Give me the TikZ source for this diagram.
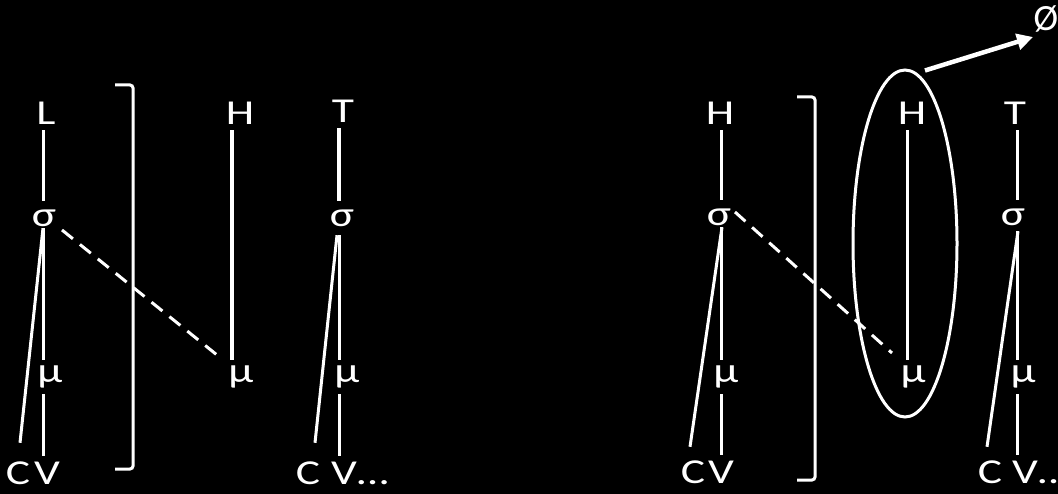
\documentclass[tikz,border=0pt]{standalone}
\usepackage{fontspec}
\newfontfamily\lblfont[FakeStretch=1.3]{Carlito}
\newfontfamily\phifont{Carlito}
\usetikzlibrary{arrows.meta,calc,shapes.geometric}
\begin{document}
\begin{tikzpicture}[x=1pt,y=-1pt,
  lbl/.style={font=\lblfont\fontsize{35}{40}\selectfont, text=white, inner sep=0pt, minimum height=34pt},
  ln/.style={draw=white, line width=3pt},
  thk/.style={draw=white, line width=4pt},
  dashln/.style={draw=white, line width=3pt, dash pattern=on 14pt off 9pt},
  brk/.style={draw=white, line width=3pt, rounded corners=3pt}]
\fill[black] (0,0) rectangle (1058,494);
\useasboundingbox (0,0) rectangle (1058,494);
% column x positions
\coordinate (xa) at (43,0);
\coordinate (xb) at (232,0);
\coordinate (xc) at (339,0);
\coordinate (xd) at (721,0);
\coordinate (xe) at (907,0);
\coordinate (xf) at (1017,0);
% ---------- left panel ----------
\node[lbl] (L) at (46,113) {L};
\node[lbl] (s1) at (44,218) {σ};
\node[lbl] (m1) at (50,377) {μ};
\node[lbl] (c1) at (18,473) {C};
\node[lbl] (v1) at (47,473) {V};
\draw[ln] (L.south -| xa) -- (s1.north -| xa);
\draw[ln] ($(s1.south -| xa)+(0,-7)$) -- (m1.north -| xa);
\draw[ln] (m1.south -| xa) -- (v1.north -| xa);
\draw[ln] ($(s1.south -| xa)+(0,-7)$) -- ($(c1.north)+(2,-13)$);
\coordinate (b1t) at (115,85);
\coordinate (b1b) at (115,469);
\draw[brk] (b1t) -- (133,85) -- (133,469) -- (b1b);
\node[lbl] (h1) at (240,113) {H};
\node[lbl] (m2) at (241,377) {μ};
\draw[thk] (h1.south -| xb) -- (m2.north -| xb);
\draw[dashln] ($(s1)+(18,12)$) -- ($(m2)+(-24,-22)$);
\node[lbl] (t1) at (343,111) {T};
\node[lbl] (s2) at (342,218) {σ};
\node[lbl] (m3) at (347,377) {μ};
\node[lbl] (c2) at (308,473) {C};
\node[lbl, anchor=west] (v2) at (331,473) {V…};
\draw[thk] (t1.south -| xc) -- (s2.north -| xc);
\draw[ln] (s2.south -| xc) -- (m3.north -| xc);
\draw[ln] (m3.south -| xc) -- (v2.north -| xc);
\draw[ln] ($(s2.south -| xc)+(-2,0)$) -- ($(c2.north)+(7,-13)$);
% ---------- right panel ----------
\node[lbl] (h2) at (720,113) {H};
\node[lbl] (s3) at (719,217) {σ};
\node[lbl] (m4) at (726,377) {μ};
\node[lbl] (c3) at (693,472) {C};
\node[lbl] (v3) at (721,472) {V};
\draw[ln] (h2.south -| xd) -- (s3.north -| xd);
\draw[ln] ($(s3.south -| xd)+(0,-7)$) -- (m4.north -| xd);
\draw[ln] (m4.south -| xd) -- (v3.north -| xd);
\draw[ln] ($(s3.south -| xd)+(1,-7)$) -- ($(c3.north)+(-3,-8)$);
\draw[brk] (797,97) -- (815,97) -- (815,480) -- (797,480);
\node[lbl] (h3) at (912,113) {H};
\node[lbl] (m5) at (913,377) {μ};
\draw[ln] (h3.south -| xe) -- (m5.north -| xe);
\draw[dashln] ($(s3)+(16,-5)$) -- ($(m5)+(-21,-24)$);
\node[draw=white, line width=3pt, ellipse, inner sep=0pt, minimum width=104pt, minimum height=347pt] (ell) at (905,243.5) {};
\node[lbl] (t2) at (1015,113) {T};
\node[lbl] (s4) at (1013,217) {σ};
\node[lbl] (m6) at (1023,377) {μ};
\node[lbl] (c4) at (990,472) {C};
\node[lbl, anchor=west] (v4) at (1012,472) {V…};
\draw[ln] (t2.south -| xf) -- (s4.north -| xf);
\draw[ln] ($(s4.south -| xf)+(0,-3)$) -- (m6.north -| xf);
\draw[ln] (m6.south -| xf) -- (v4.north -| xf);
\draw[ln] ($(s4.south -| xf)+(1,-3)$) -- ($(c4.north)+(-3,-8)$);
\node[font=\phifont\fontsize{37}{40}\selectfont, text=white, inner sep=0pt] (phi) at (1046,19) {Ø};
\draw[draw=white, line width=4.5pt, -{Triangle[length=16pt,width=16pt]}] ($(ell.north)+(20,2)$) -- ($(phi)+(-13,18)$);
\end{tikzpicture}
\end{document}
